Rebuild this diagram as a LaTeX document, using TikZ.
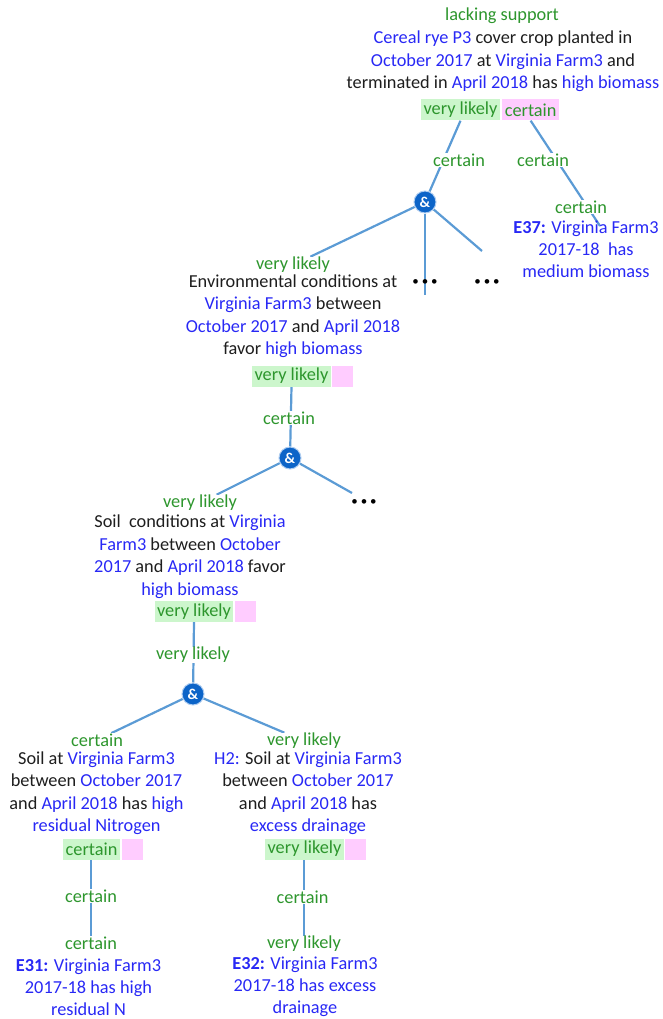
\documentclass[tikz,border=0pt]{standalone}
\usepackage{fontspec}
\setmainfont{Carlito}
\usetikzlibrary{backgrounds}

\definecolor{txtblue}{RGB}{40,40,245}
\definecolor{txtgreen}{RGB}{45,150,45}
\definecolor{txtdark}{RGB}{30,30,30}
\definecolor{badgegreen}{RGB}{204,246,204}
\definecolor{badgepink}{RGB}{255,204,255}
\definecolor{linkblue}{RGB}{91,155,213}
\definecolor{andblue}{RGB}{12,100,200}
\definecolor{andring}{RGB}{175,205,240}

% blue highlighted terms and bold evidence ids
\newcommand{\bl}[1]{\textcolor{txtblue}{#1}}
\newcommand{\eid}[1]{\textcolor{txtblue}{\bfseries #1}}
\newcommand{\threedots}{\textbullet\hspace{3pt}\textbullet\hspace{3pt}\textbullet}

\begin{document}
\begin{tikzpicture}[x=1pt,y=-1pt,
  claim/.style={align=center, font=\fontsize{18.3}{22.5}\selectfont, text=txtdark, inner sep=0pt},
  evid/.style={align=center, font=\fontsize{18.3}{22.2}\selectfont, text=txtblue, inner sep=0pt},
  lbl/.style={font=\fontsize{18.3}{20}\selectfont, text=txtgreen, fill=white, inner xsep=1.5pt, inner ysep=0.3pt},
  greenbadge/.style={fill=badgegreen, text=txtgreen, font=\fontsize{18.3}{20}\selectfont,
    minimum height=21pt, inner ysep=0pt, inner xsep=2.5pt},
  pinkbadge/.style={fill=badgepink, text=txtgreen, font=\fontsize{18.3}{20}\selectfont,
    minimum height=21pt, minimum width=21pt, inner ysep=0pt, inner xsep=2.5pt, anchor=west},
  andnode/.style={circle, fill=andblue, draw=andring, line width=1pt, text=white,
    font=\bfseries\fontsize{15}{15}\selectfont, minimum size=22pt, inner sep=0pt},
  more/.style={font=\fontsize{13}{13}\selectfont, text=black, inner sep=0pt},
  link/.style={draw=linkblue, line width=2.2pt}
]
\useasboundingbox (0,0) rectangle (662,1019);

% ---- top claim ----
\node[lbl] (topstat) at (502,16) {lacking support};
\node[claim] (top) at (503,61.5) {\bl{Cereal rye P3} cover crop planted in\\
  \bl{October 2017} at \bl{Virginia Farm3} and\\
  terminated in \bl{April 2018} has \bl{high biomass}};
\node[greenbadge] (topG) at (460.5,110) {very likely};
\node[pinkbadge] (topP) at ([xshift=2pt]topG.east) {certain};

\node[lbl] (l1) at (459,160) {certain};
\node[lbl] (l2) at (543,160) {certain};

% ---- first conjunction ----
\node[andnode] (and1) at (425,202) {\&};
\node[more] (dots1) at (425,283) {\threedots};
\node[more] (dots2) at (487,283) {\threedots};
\coordinate (and1r) at (482,251);

% ---- E37 ----
\node[lbl] (e37lab) at (581,207) {certain};
\node[evid] (e37) at (586,249) {\eid{E37:} Virginia Farm3\\2017-18\ \ has\\medium biomass};
\coordinate (e37end) at (600,226);

% ---- environmental conditions ----
\node[lbl] (envlab) at (293,265) {very likely};
\node[claim] (env) at (293,316) {Environmental conditions at\\
  \bl{Virginia Farm3} between\\
  \bl{October 2017} and \bl{April 2018}\\
  favor \bl{high biomass}};
\node[greenbadge] (envG) at (291.5,376) {very likely};
\node[pinkbadge] (envP) at ([xshift=1pt]envG.east) {};
\node[lbl] (l3) at (289,418) {certain};

% ---- second conjunction ----
\node[andnode] (and2) at (290,458) {\&};
\node[more] (dots3) at (364,503) {\threedots};
\coordinate (and2r) at (352,493);

% ---- soil conditions ----
\node[lbl] (soillab) at (200,503) {very likely};
\node[claim] (soil) at (190,556.5) {Soil\ \ conditions at \bl{Virginia}\\
  \bl{Farm3} between \bl{October}\\
  \bl{2017} and \bl{April 2018} favor\\
  \bl{high biomass}};
\node[greenbadge] (soilG) at (194,611.5) {very likely};
\node[pinkbadge] (soilP) at ([xshift=1pt]soilG.east) {};
\node[lbl] (l4) at (193,655) {very likely};

% ---- third conjunction ----
\node[andnode] (and3) at (193,694) {\&};

% ---- residual nitrogen ----
\node[lbl] (nlab) at (97,740) {certain};
\node[claim] (nit) at (96.5,793) {Soil at \bl{Virginia Farm3}\\
  between \bl{October 2017}\\
  and \bl{April 2018} has \bl{high}\\
  \bl{residual Nitrogen}};
\node[greenbadge] (nG) at (91.5,849) {certain};
\node[pinkbadge] (nP) at ([xshift=1.5pt]nG.east) {};
\node[lbl] (l5) at (91,896) {certain};
\node[lbl] (e31lab) at (91,943) {certain};
\node[evid] (e31) at (88.5,987) {\eid{E31:} Virginia Farm3\\2017-18 has high\\residual N};

% ---- excess drainage ----
\node[lbl] (dlab) at (304,741) {very likely};
\node[claim] (drain) at (308,793) {\bl{H2:} Soil at \bl{Virginia Farm3}\\
  between \bl{October 2017}\\
  and \bl{April 2018} has\\
  \bl{excess drainage}};
\node[greenbadge] (dG) at (304.5,849) {very likely};
\node[pinkbadge] (dP) at ([xshift=1pt]dG.east) {};
\node[lbl] (l6) at (302.5,897) {certain};
\node[lbl] (e32lab) at (304,944) {very likely};
\node[evid] (e32) at (305,987) {\eid{E32:} Virginia Farm3\\2017-18 has excess\\drainage};

% ---- connectors, behind the labels ----
\begin{scope}[on background layer]
  \draw[link] (topG.south) -- (and1);
  \draw[link] (topP.south) -- (e37end);
  \draw[link] (and1) -- (envlab);
  \draw[link] (and1) -- ([yshift=-12pt]dots1.center);
  \draw[link] (and1) -- (and1r);
  \draw[link] (envG.south) -- (and2);
  \draw[link] (and2) -- (soillab);
  \draw[link] (and2) -- (and2r);
  \draw[link] (soilG.south) -- (and3);
  \draw[link] (and3) -- (nlab);
  \draw[link] (and3) -- (dlab);
  \draw[link] (nG.south -| e31lab.north) -- (e31lab.north);
  \draw[link] (dG.south -| e32lab.north) -- (e32lab.north);
\end{scope}
\end{tikzpicture}
\end{document}
